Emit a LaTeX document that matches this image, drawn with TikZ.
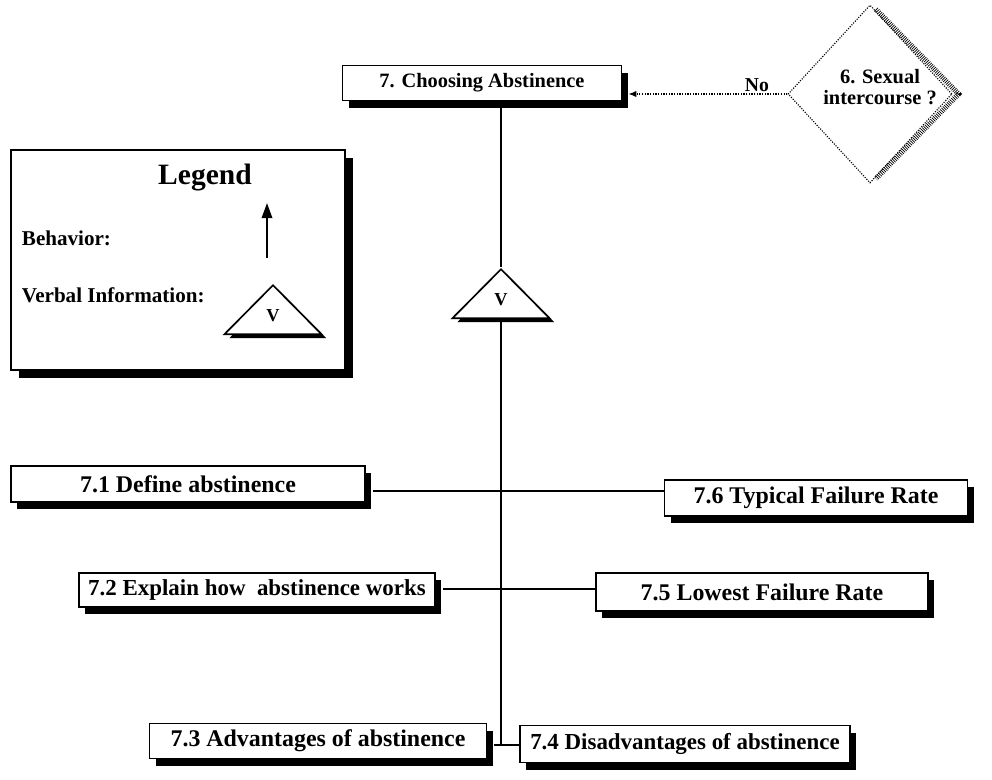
\documentclass[tikz,border=0pt]{standalone}
\usepackage{fontspec}
\setmainfont{Liberation Serif}
\usetikzlibrary{shapes.geometric,shadows,arrows.meta,calc}

\begin{document}
\begin{tikzpicture}[x=0.025cm,y=-0.025cm,
  boxshadow/.style={drop shadow={shadow xshift=0.16cm, shadow yshift=-0.18cm, fill=black, opacity=1}},
  stepbox/.style={draw, line width=1.3pt, fill=white, inner sep=0pt,
    font=\fontsize{17}{18}\selectfont\bfseries, boxshadow},
  widebox/.style={stepbox, font=\fontsize{16.3}{18}\selectfont\bfseries},
  vtri/.style={isosceles triangle, shape border rotate=90, isosceles triangle stretches,
    minimum width=97*0.025cm, minimum height=49*0.025cm, inner sep=0pt,
    draw, line width=1.2pt, fill=white, font=\fontsize{13}{14}\selectfont\bfseries,
    drop shadow={shadow xshift=0.12cm, shadow yshift=-0.1cm, fill=black, opacity=1}},
  link/.style={line width=1.3pt},
  legendtext/.style={anchor=west, font=\fontsize{15}{17}\selectfont\bfseries},
]
\useasboundingbox (0,0) rectangle (992,780);

% ---------- legend ----------
\node[draw, line width=1pt, fill=white, minimum width=334*0.025cm, minimum height=220*0.025cm,
      drop shadow={shadow xshift=0.2cm, shadow yshift=-0.2cm, fill=black, opacity=1}]
      (legend) at (178,260) {};
\node[font=\fontsize{21}{24}\selectfont\bfseries] (legtitle) at (205,178) {Legend};
\node[legendtext] (behav) at (17,238) {Behavior:};
\node[legendtext] (verbal) at (17,295) {Verbal Information:};
\coordinate (arrlo) at (267,258);
\coordinate (arrhi) at (267,203);
\draw[line width=1.6pt, -{Triangle[length=0.38cm,width=0.26cm]}] (arrlo) -- (arrhi);
\node[vtri, anchor=apex] (legtri) at (273,283) {V};

% ---------- top of the tree ----------
\node[stepbox, minimum width=279*0.025cm, minimum height=35*0.025cm,
      font=\fontsize{14.5}{16}\selectfont\bfseries] (B7) at (482,83) {7. Choosing Abstinence};

% decision diamond with hatched shadow on its right edges
\node[diamond, draw, densely dotted, line width=0.8pt, minimum width=164*0.025cm,
      minimum height=178*0.025cm, inner sep=0pt] (Q6) at (870,94) {};
\draw[line width=0.13cm, dash pattern=on 0.5pt off 0.9pt]
  ($(Q6.north)+(6,5)$) -- ($(Q6.east)+(6,0)$) -- ($(Q6.south)+(6,-5)$);
\node[align=center, font=\fontsize{14.5}{14.5}\selectfont\bfseries] (Q6text) at (880,87)
  {6. Sexual\\intercourse ?};

\draw[densely dotted, line width=0.9pt, -{Latex[length=0.2cm,width=0.16cm]}]
  (Q6.west) -- ($(Q6.west -| B7.east)+(6,0)$);
\node[anchor=base, font=\fontsize{14}{16}\selectfont\bfseries] (no) at (757,92) {No};

% ---------- verbal information triangle and trunk ----------
\node[vtri, anchor=apex] (T) at (501,267) {V};
\coordinate (J1) at (501,491);
\coordinate (J2) at (501,589);
\coordinate (J3) at (501,745);
\draw[link] (B7.south -| T.apex) -- (T.apex);
\draw[link] (T.south) -- (J3);

% ---------- sub-steps ----------
\node[stepbox, minimum width=354*0.025cm, minimum height=36*0.025cm] (B71) at (188,484) {7.1 Define abstinence};
\node[stepbox, minimum width=303*0.025cm, minimum height=36*0.025cm] (B76) at (816,498) {7.6 Typical Failure Rate};
\node[widebox, minimum width=356*0.025cm, minimum height=34*0.025cm] (B72) at (257,590) {7.2 Explain how\ \ abstinence works};
\node[stepbox, minimum width=332*0.025cm, minimum height=38*0.025cm] (B75) at (762,592) {7.5 Lowest Failure Rate};
\node[stepbox, minimum width=337*0.025cm, minimum height=35*0.025cm] (B73) at (318,741) {7.3 Advantages of abstinence};
\node[widebox, minimum width=330*0.025cm, minimum height=37*0.025cm] (B74) at (685,744) {7.4 Disadvantages of abstinence};

\draw[link] ($(B71.east |- J1)+(7,0)$) -- (B76.west |- J1);
\draw[link] ($(B72.east |- J2)+(7,0)$) -- (B75.west |- J2);
\draw[line width=2pt] ($(B73.east |- J3)+(7,0)$) -- (B74.west |- J3);
\end{tikzpicture}
\end{document}
